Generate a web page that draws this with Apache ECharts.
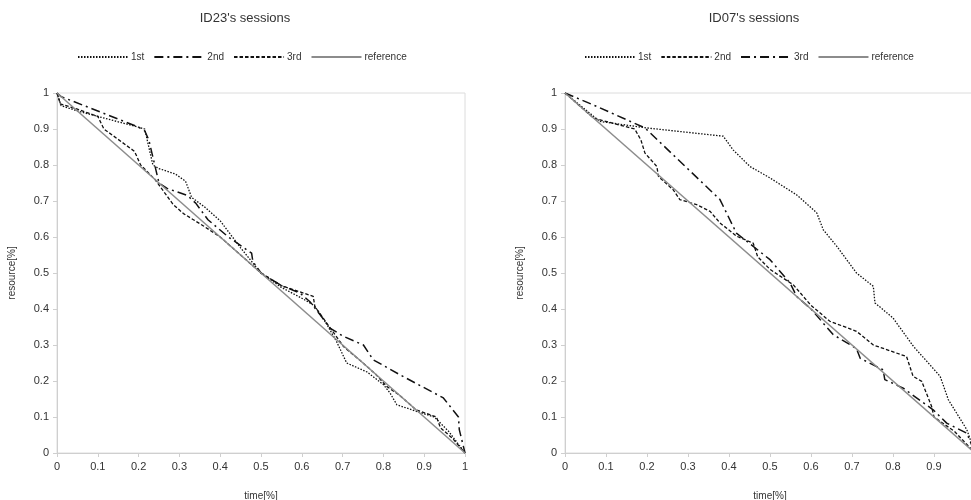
<!DOCTYPE html>
<html>
<head>
<meta charset="utf-8">
<script src="https://cdn.jsdelivr.net/npm/echarts@6/dist/echarts.min.js"></script>
<style>
  html, body { margin: 0; padding: 0; background: #fff; }
  #chart { width: 971px; height: 500px; }
</style>
</head>
<body>
<div id="chart"></div>
<script>
// session names for the two panels
var titles = ["ID23's sessions", "ID07's sessions"];
var legendNames = ['1st', '2nd', '3rd', 'reference'];

// [time, resource] pairs
var referenceLine = [[0, 1], [1, 0]];

var id23First = [[0, 1], [0.01, 0.965], [0.05, 0.95], [0.1, 0.935], [0.15, 0.92], [0.2, 0.905], [0.215, 0.9],
  [0.235, 0.8], [0.25, 0.79], [0.29, 0.775], [0.315, 0.755], [0.33, 0.71], [0.36, 0.685], [0.4, 0.645],
  [0.45, 0.57], [0.5, 0.5], [0.55, 0.46], [0.6, 0.43], [0.63, 0.41], [0.66, 0.36], [0.685, 0.31],
  [0.71, 0.25], [0.76, 0.225], [0.8, 0.19], [0.816, 0.167], [0.833, 0.134], [0.88, 0.116],
  [0.925, 0.1], [0.96, 0.06], [1, 0]];
var id23Second = [[0, 1], [0.01, 0.99], [0.1, 0.95], [0.2, 0.905], [0.215, 0.895], [0.225, 0.87],
  [0.25, 0.75], [0.27, 0.735], [0.32, 0.715], [0.34, 0.694], [0.37, 0.648], [0.42, 0.6], [0.477, 0.555],
  [0.48, 0.532], [0.5, 0.5], [0.55, 0.465], [0.596, 0.444], [0.62, 0.42], [0.645, 0.384], [0.669, 0.347],
  [0.702, 0.324], [0.751, 0.3], [0.775, 0.259], [0.841, 0.217], [0.947, 0.153], [0.984, 0.1],
  [0.986, 0.065], [1, 0]];
var id23Third = [[0, 1], [0.008, 0.97], [0.05, 0.955], [0.1, 0.935], [0.115, 0.9], [0.19, 0.838],
  [0.205, 0.8], [0.24, 0.76], [0.285, 0.69], [0.31, 0.665], [0.36, 0.63], [0.4, 0.6], [0.45, 0.55],
  [0.5, 0.5], [0.55, 0.465], [0.628, 0.435], [0.632, 0.407], [0.661, 0.361], [0.702, 0.296],
  [0.74, 0.26], [0.78, 0.22], [0.808, 0.185], [0.84, 0.16], [0.88, 0.12], [0.93, 0.1], [0.94, 0.07],
  [0.97, 0.04], [1, 0]];

var id07First = [[0, 1], [0.085, 0.921], [0.199, 0.903], [0.386, 0.88], [0.41, 0.842], [0.451, 0.796],
  [0.5, 0.764], [0.565, 0.717], [0.614, 0.667], [0.63, 0.62], [0.663, 0.574], [0.711, 0.5],
  [0.752, 0.463], [0.756, 0.417], [0.8, 0.375], [0.85, 0.296], [0.915, 0.213], [0.935, 0.148],
  [0.98, 0.065], [1, 0]];
var id07Second = [[0, 1], [0.07, 0.93], [0.17, 0.9], [0.185, 0.87], [0.195, 0.833], [0.224, 0.796],
  [0.228, 0.768], [0.264, 0.731], [0.28, 0.704], [0.321, 0.69], [0.354, 0.671], [0.378, 0.639],
  [0.419, 0.602], [0.459, 0.583], [0.47, 0.545], [0.5, 0.51], [0.557, 0.467], [0.6, 0.41],
  [0.646, 0.366], [0.711, 0.338], [0.752, 0.3], [0.833, 0.268], [0.849, 0.213], [0.87, 0.199],
  [0.894, 0.13], [0.9, 0.1], [0.95, 0.06], [1, 0]];
var id07Third = [[0, 1], [0.077, 0.963], [0.195, 0.903], [0.378, 0.704], [0.418, 0.611], [0.5, 0.537],
  [0.549, 0.472], [0.565, 0.435], [0.6, 0.4], [0.654, 0.329], [0.711, 0.29], [0.72, 0.263],
  [0.776, 0.231], [0.78, 0.204], [0.825, 0.18], [0.898, 0.12], [0.931, 0.083], [0.98, 0.055], [1, 0]];

var FONT = 'Liberation Sans, Arial, sans-serif';
var DOTTED = [1.5, 1.5];
var DASHED = [3.5, 2];
var DASHDOT = [9, 4, 2, 4];

var chart = echarts.init(document.getElementById('chart'), null, { renderer: 'canvas' });

function lineSeries(prefix, name, idx, data, dash, color, width) {
  return {
    type: 'line',
    name: prefix + name,
    xAxisIndex: idx,
    yAxisIndex: idx,
    data: data,
    showSymbol: false,
    symbol: 'none',
    animation: false,
    itemStyle: { color: color },
    lineStyle: { color: color, width: width, type: dash }
  };
}

function xAxis(idx) {
  return {
    type: 'value', gridIndex: idx, min: 0, max: 1, interval: 0.1,
    name: 'time[%]', nameLocation: 'middle', nameGap: 38,
    nameTextStyle: { fontSize: 10, color: '#333', fontFamily: FONT },
    axisLine: { lineStyle: { color: '#cfcfcf' } },
    axisTick: { show: true, length: 4, lineStyle: { color: '#cfcfcf' } },
    axisLabel: { fontSize: 11, color: '#333', margin: 8, fontFamily: FONT },
    splitLine: { show: false }
  };
}

function yAxis(idx) {
  return {
    type: 'value', gridIndex: idx, min: 0, max: 1, interval: 0.1,
    name: 'resource[%]', nameLocation: 'middle', nameGap: 40,
    nameTextStyle: { fontSize: 10, color: '#333', fontFamily: FONT },
    axisLine: { show: true, lineStyle: { color: '#cfcfcf' } },
    axisTick: { show: true, length: 4, lineStyle: { color: '#cfcfcf' } },
    axisLabel: { fontSize: 11, color: '#333', margin: 8, fontFamily: FONT },
    splitLine: { show: false }
  };
}

function legend(prefix, left) {
  return {
    left: left, top: 47,
    itemWidth: 50, itemHeight: 10, itemGap: 9,
    itemStyle: { opacity: 0 },
    textStyle: { fontSize: 10, color: '#333', fontFamily: FONT, padding: [0, 0, 0, -2] },
    data: legendNames.map(function (n) { return prefix + n; }),
    formatter: function (name) { return name.replace(prefix, ''); },
    selectedMode: false
  };
}

var option = {
  backgroundColor: '#fff',
  animation: false,
  title: [
    { text: titles[0], left: 240, top: 7, textAlign: 'center',
      textStyle: { fontSize: 13, fontWeight: 'normal', color: '#333', fontFamily: FONT } },
    { text: titles[1], left: 749, top: 7, textAlign: 'center',
      textStyle: { fontSize: 13, fontWeight: 'normal', color: '#333', fontFamily: FONT } }
  ],
  legend: [legend('a:', 72), legend('b:', 579)],
  grid: [
    { left: 57, top: 93, width: 408, height: 360, show: true, borderColor: '#dcdcdc', borderWidth: 1,
      outerBoundsMode: 'none' },
    { left: 565, top: 93, width: 410, height: 360, show: true, borderColor: '#dcdcdc', borderWidth: 1,
      outerBoundsMode: 'none' }
  ],
  xAxis: [xAxis(0), xAxis(1)],
  yAxis: [yAxis(0), yAxis(1)],
  series: [
    lineSeries('a:', '1st', 0, id23First, DOTTED, '#111', 1.3),
    lineSeries('a:', '2nd', 0, id23Second, DASHDOT, '#111', 1.5),
    lineSeries('a:', '3rd', 0, id23Third, DASHED, '#111', 1.3),
    lineSeries('a:', 'reference', 0, referenceLine, 'solid', '#8c8c8c', 1.5),
    lineSeries('b:', '1st', 1, id07First, DOTTED, '#111', 1.3),
    lineSeries('b:', '2nd', 1, id07Second, DASHED, '#111', 1.3),
    lineSeries('b:', '3rd', 1, id07Third, DASHDOT, '#111', 1.5),
    lineSeries('b:', 'reference', 1, referenceLine, 'solid', '#8c8c8c', 1.5)
  ]
};

chart.setOption(option);
</script>
</body>
</html>
